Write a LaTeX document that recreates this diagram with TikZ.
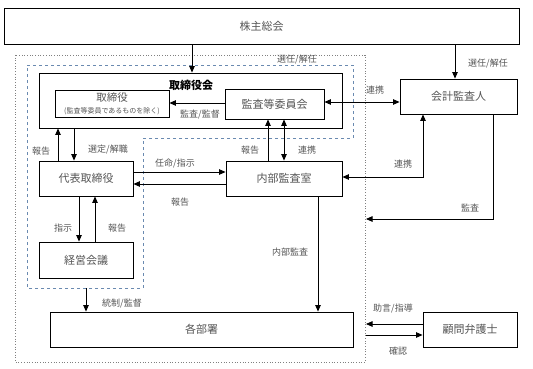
\documentclass[tikz,border=0pt]{standalone}
\usepackage{fontspec}
\setmainfont{Noto Sans CJK JP}
\usetikzlibrary{arrows.meta}
\definecolor{txtgray}{HTML}{555555}
\definecolor{dashblue}{HTML}{6A8AB0}
\begin{document}
\begin{tikzpicture}[x=1pt,y=-1pt,
  box/.style={draw=black,line width=0.9pt,rectangle,inner sep=0pt,text=txtgray,font=\fontsize{11}{13}\selectfont,align=center},
  lbl/.style={text=txtgray,font=\fontsize{9}{10}\selectfont,inner sep=0pt},
  arr/.style={line width=0.8pt,-{Triangle[length=6.5pt,width=5.5pt]}},
  darr/.style={line width=0.8pt,{Triangle[length=6.5pt,width=5.5pt]}-{Triangle[length=6.5pt,width=5.5pt]}},
  ln/.style={line width=0.8pt}]
\useasboundingbox (0,0) rectangle (533,369);
% group frames
\draw[gray,dotted,line width=0.7pt] (15,55) rectangle (365,362);
\draw[dashblue,dashed,line width=0.8pt] (27,65) -- (353,65) -- (353,138) -- (143,138) -- (143,288) -- (27,288) -- cycle;
% boxes
\node[box,minimum width=515pt,minimum height=36pt] (sh) at (261.5,26) {株主総会};
\node[box,minimum width=303pt,minimum height=55pt] (bod) at (190.5,100.5) {};
\node[text=black,font=\bfseries\fontsize{11}{13}\selectfont,inner sep=0pt] (bodlabel) at (191,85) {取締役会};
\node[box,minimum width=114pt,minimum height=27pt] (dir) at (112,103.5) {\fontsize{10.5}{11}\selectfont 取締役\\[-1pt]\fontsize{7}{8}\selectfont (監査等委員であるものを除く)};
\node[box,minimum width=99pt,minimum height=30pt] (acm) at (274.5,104) {監査等委員会};
\node[box,minimum width=117pt,minimum height=35pt] (ext) at (458.5,96.5) {会計監査人};
\node[box,minimum width=94pt,minimum height=35pt] (rep) at (86,178.5) {代表取締役};
\node[box,minimum width=116pt,minimum height=35pt] (ia) at (284,178.5) {内部監査室};
\node[box,minimum width=94pt,minimum height=36pt] (mm) at (86,260) {経営会議};
\node[box,minimum width=303pt,minimum height=35pt] (dep) at (201.5,329.5) {各部署};
\node[box,minimum width=94pt,minimum height=35pt] (law) at (470,329.5) {顧問弁護士};
% free ends
\coordinate (ctrl) at (86,288);
\coordinate (auditpt) at (366,219);
\coordinate (advpt) at (366,324);
\coordinate (confpt) at (366,335);
% connectors
\draw[arr] (192,0 |- sh.south) -- (192,0 |- bod.north);
\draw[arr] (455,0 |- sh.south) -- (455,0 |- ext.north);
\draw[arr] (acm.west |- 0,103) -- (dir.east |- 0,103);
\draw[darr] (acm.east |- 0,102) -- (ext.west |- 0,102);
\draw[arr] (58,0 |- rep.north) -- (58,0 |- bod.south);
\draw[arr] (74,0 |- bod.south) -- (74,0 |- rep.north);
\draw[arr] (rep.east |- 0,172) -- (ia.west |- 0,172);
\draw[arr] (ia.west |- 0,184) -- (rep.east |- 0,184);
\draw[arr] (268,0 |- ia.north) -- (268,0 |- acm.south);
\draw[darr] (284,0 |- acm.south) -- (284,0 |- ia.north);
\draw[darr] (ia.east |- 0,177) -| (423,0 |- ext.south);
\draw[arr] (493,0 |- ext.south) |- (auditpt);
\draw[arr] (318,0 |- ia.south) -- (318,0 |- dep.north);
\draw[arr] (79,0 |- rep.south) -- (79,0 |- mm.north);
\draw[arr] (95,0 |- mm.north) -- (95,0 |- rep.south);
\draw[arr] (ctrl) -- (86,0 |- dep.north);
\draw[arr] (law.west |- 0,324) -- (advpt);
\draw[arr] (confpt) -- (law.west |- 0,335);
% labels
\node[lbl] (l1) at (297,60) {選任/解任};
\node[lbl] (l2) at (488,64) {選任/解任};
\node[lbl] (l3) at (200,115) {監査/監督};
\node[lbl] (l4) at (375,90) {連携};
\node[lbl] (l5) at (41,151) {報告};
\node[lbl] (l6) at (108,150) {選定/解職};
\node[lbl] (l7) at (175,164) {任命/指示};
\node[lbl] (l8) at (180,202) {報告};
\node[lbl] (l9) at (250,150) {報告};
\node[lbl] (l10) at (307,150) {連携};
\node[lbl] (l11) at (403,164) {連携};
\node[lbl] (l12) at (470,208) {監査};
\node[lbl] (l13) at (290,252) {内部監査};
\node[lbl] (l14) at (63,228) {指示};
\node[lbl] (l15) at (117,228) {報告};
\node[lbl] (l16) at (122,304) {統制/監督};
\node[lbl] (l17) at (393,309) {助言/指導};
\node[lbl] (l18) at (398,351) {確認};
\end{tikzpicture}
\end{document}
